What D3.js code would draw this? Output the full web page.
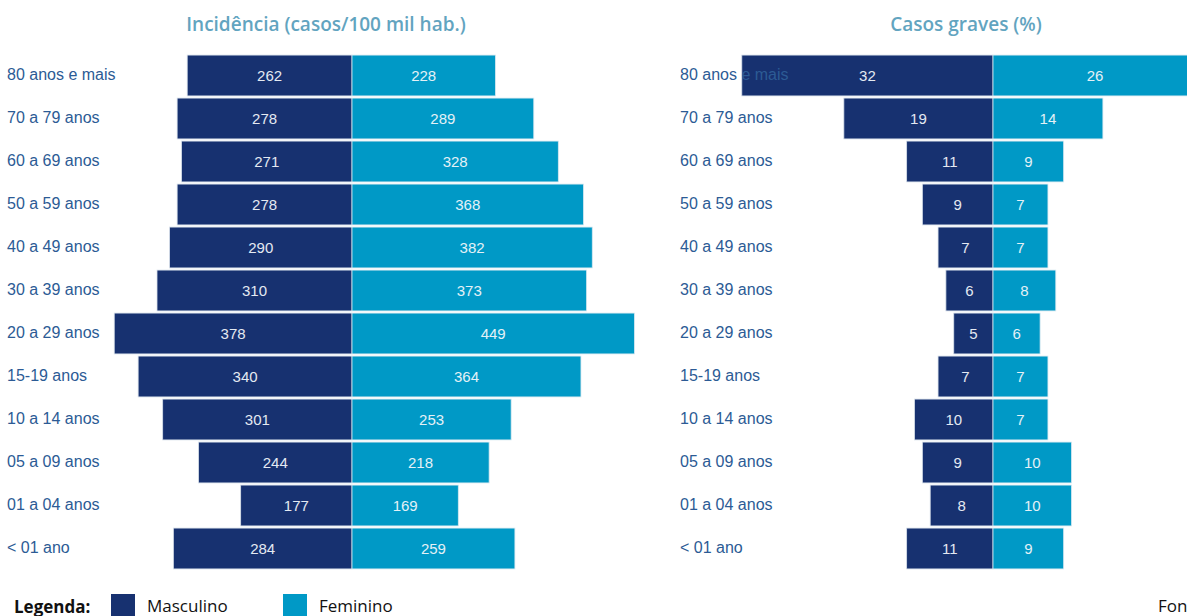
<!DOCTYPE html>
<html>
<head>
<meta charset="utf-8">
<script src="https://cdn.jsdelivr.net/npm/d3@7"></script>
<style>
  body { margin: 0; background: #fff; }
  svg { display: block; }
</style>
</head>
<body>
<svg id="chart"></svg>
<script>
let ageGroups = ['80 anos e mais','70 a 79 anos','60 a 69 anos','50 a 59 anos','40 a 49 anos','30 a 39 anos',
                 '20 a 29 anos','15-19 anos','10 a 14 anos','05 a 09 anos','01 a 04 anos','< 01 ano']

let incMasc = [262, 278, 271, 278, 290, 310, 378, 340, 301, 244, 177, 284]
let incFem  = [228, 289, 328, 368, 382, 373, 449, 364, 253, 218, 169, 259]

let gravMasc = [32, 19, 11, 9, 7, 6, 5, 7, 10, 9, 8, 11]
let gravFem  = [26, 14, 9, 7, 7, 8, 6, 7, 7, 10, 10, 9]

let width = 1187
let height = 616

let navy = '#173170'
let cyan = '#0099c6'

let svg = d3.select('#chart')
    .attr('width', width)
    .attr('height', height)

let y = d3.scaleBand()
    .domain(ageGroups)
    .range([54, 570])
    .paddingInner(0.05)
    .paddingOuter(0.025)

// draws one pyramid: labels, two sides of bars and values
let drawPyramid = (opts) => {
    let g = svg.append('g')

    let left = d3.scaleLinear().domain([0, opts.max]).range([opts.center, opts.center - opts.pxPerUnit * opts.max])
    let right = d3.scaleLinear().domain([0, opts.max]).range([opts.center, opts.center + opts.pxPerUnit * opts.max])

    let rows = ageGroups.map((a, i) => ({age: a, m: opts.masc[i], f: opts.fem[i]}))

    g.selectAll('rect.masc')
        .data(rows)
        .enter()
        .append('rect')
        .attr('class', 'masc')
        .attr('x', d => left(d.m))
        .attr('y', d => y(d.age))
        .attr('width', d => left(0) - left(d.m))
        .attr('height', y.bandwidth())
        .attr('fill', navy)
        .attr('stroke', '#d8e0ea')
        .attr('stroke-width', 0.8)

    g.selectAll('rect.fem')
        .data(rows)
        .enter()
        .append('rect')
        .attr('class', 'fem')
        .attr('x', right(0))
        .attr('y', d => y(d.age))
        .attr('width', d => right(d.f) - right(0))
        .attr('height', y.bandwidth())
        .attr('fill', cyan)
        .attr('stroke', '#d8e8f0')
        .attr('stroke-width', 0.8)

    g.selectAll('text.vm')
        .data(rows)
        .enter()
        .append('text')
        .attr('class', 'vm')
        .attr('x', d => (left(d.m) + left(0)) / 2)
        .attr('y', d => y(d.age) + y.bandwidth() / 2 + 5)
        .attr('text-anchor', 'middle')
        .attr('fill', '#e4e9f2')
        .style('font', '15px "Liberation Sans", Arial, sans-serif')
        .text(d => d.m)

    g.selectAll('text.vf')
        .data(rows)
        .enter()
        .append('text')
        .attr('class', 'vf')
        .attr('x', d => (right(d.f) + right(0)) / 2)
        .attr('y', d => y(d.age) + y.bandwidth() / 2 + 5)
        .attr('text-anchor', 'middle')
        .attr('fill', '#e4f1f7')
        .style('font', '15px "Liberation Sans", Arial, sans-serif')
        .text(d => d.f)

    g.selectAll('text.age')
        .data(rows)
        .enter()
        .append('text')
        .attr('class', 'age')
        .attr('x', opts.labelX)
        .attr('y', d => y(d.age) + y.bandwidth() / 2 + 4)
        .attr('fill', '#2c5b95')
        .style('font', '16px "Liberation Sans", Arial, sans-serif')
        .text(d => d.age)

    g.append('text')
        .attr('x', opts.titleX)
        .attr('y', 31)
        .attr('text-anchor', 'middle')
        .attr('fill', '#62a4c0')
        .style('font', '600 19px "Open Sans", sans-serif')
        .text(opts.title)
}

drawPyramid({masc: incMasc, fem: incFem, max: 450, center: 352, pxPerUnit: 0.629,
             labelX: 7, titleX: 326, title: 'Incidência (casos/100 mil hab.)'})

drawPyramid({masc: gravMasc, fem: gravFem, max: 32, center: 993, pxPerUnit: 7.85,
             labelX: 680, titleX: 966, title: 'Casos graves (%)'})

// legend
let legend = svg.append('g')
legend.append('text')
    .attr('x', 14).attr('y', 613)
    .attr('fill', '#111')
    .style('font', 'bold 17px "Open Sans", sans-serif')
    .text('Legenda:')

let legendItems = [{label: 'Masculino', color: navy, x: 111}, {label: 'Feminino', color: cyan, x: 283}]
legend.selectAll('rect')
    .data(legendItems)
    .enter()
    .append('rect')
    .attr('x', d => d.x)
    .attr('y', 594)
    .attr('width', 24)
    .attr('height', 24)
    .attr('fill', d => d.color)
legend.selectAll('text.item')
    .data(legendItems)
    .enter()
    .append('text')
    .attr('class', 'item')
    .attr('x', d => d.x + 36)
    .attr('y', 612)
    .attr('fill', '#111')
    .style('font', '17px "Open Sans", sans-serif')
    .text(d => d.label)

svg.append('text')
    .attr('x', 1158).attr('y', 612)
    .attr('fill', '#111')
    .style('font', '17px "Open Sans", sans-serif')
    .text('Fonte:')
</script>
</body>
</html>
